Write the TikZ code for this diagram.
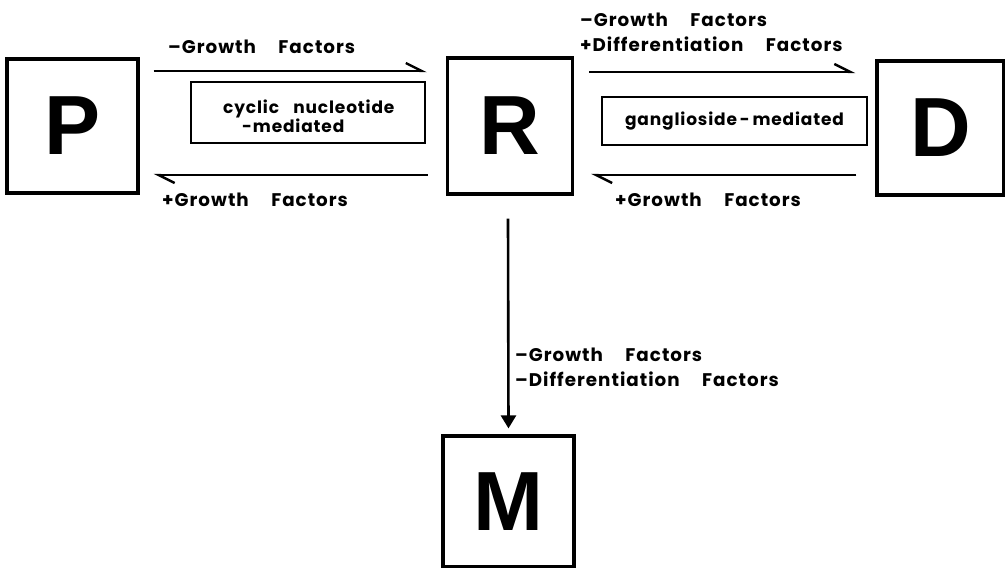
\documentclass[tikz,border=0pt]{standalone}
\usepackage{fontspec}
\setmainfont{Poppins}
\newfontfamily\bigfont{Liberation Sans}
\newfontfamily\labfont[LetterSpace=5.5,WordSpace=4.6]{Poppins}
\newfontfamily\medfont[LetterSpace=5,WordSpace=3.2]{Poppins}
\usetikzlibrary{arrows.meta,calc}
\tikzset{
  cell/.style={draw, line width=3.2pt, inner sep=0pt, font=\bigfont\bfseries\fontsize{84}{84}\selectfont},
  medbox/.style={draw, line width=2.6pt, inner sep=0pt},
  harp/.style={line width=2.6pt, -{Straight Barb[left,length=16pt,width=16pt,line width=2.4pt]}},
  down/.style={line width=2.6pt, -{Triangle[length=13pt,width=15pt]}},
  lab/.style={font=\labfont\bfseries\fontsize{18.3}{25}\selectfont, inner sep=0pt, anchor=west, align=left},
  medlab/.style={font=\medfont\bfseries\fontsize{17}{19}\selectfont, inner sep=0pt, anchor=west, align=left},
}
\begin{document}
\begin{tikzpicture}[x=1pt,y=-1pt]
\useasboundingbox (0,0) rectangle (1005,568);
\node[cell, minimum width=131pt, minimum height=134pt] (P) at (72.5,126) {P};
\node[cell, minimum width=125pt, minimum height=136pt] (R) at (510,126) {R};
\node[cell, minimum width=127pt, minimum height=134pt] (D) at (940.5,128) {D};
\node[cell, minimum width=131pt, minimum height=131pt] (M) at (508.5,501.5) {M};

\node[medbox, minimum width=234pt, minimum height=61pt] (cyc) at (308,112.5) {};
\node[medlab] (cyctxt) at (223,116) {cyclic nucleotide\\\hspace*{19pt}-mediated};
\node[medbox, minimum width=265pt, minimum height=48pt] (gan) at (734.5,121) {};
\node[medlab, anchor=center] (gantxt) at (gan.center) {ganglioside\,-\,mediated};

\draw[harp] ($(P.east)+(14,-55)$) -- ($(R.west)+(-19,-55)$);
\draw[harp] ($(R.west)+(-18,49)$) -- ($(P.east)+(14,49)$);
\draw[harp] ($(R.east)+(15,-54)$) -- ($(D.west)+(-20,-56)$);
\draw[harp] ($(D.west)+(-19,47)$) -- ($(R.east)+(17,49)$);
\draw[down] ($(R.south)+(-2,23)$) -- ($(M.north)+(0,-6)$);

\node[lab] (l1) at (168,47) {–Growth Factors};
\node[lab] (l2) at (162,200) {+Growth Factors};
\node[lab] (l3) at (580,32.5) {–Growth Factors\\+Differentiation Factors};
\node[lab] (l4) at (615,200) {+Growth Factors};
\node[lab] (l5) at (515,367.5) {–Growth Factors\\–Differentiation Factors};
\end{tikzpicture}
\end{document}
